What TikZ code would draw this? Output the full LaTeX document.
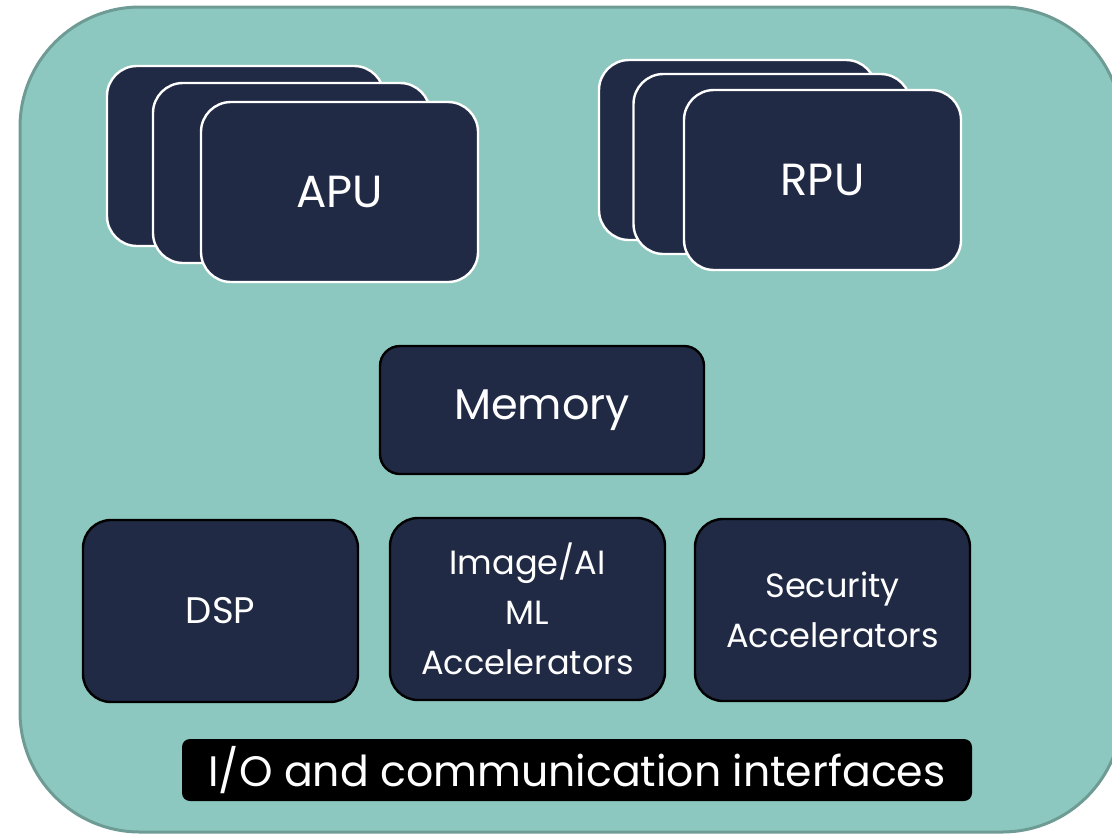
\documentclass[tikz,border=0pt]{standalone}
\usepackage{fontspec}
\setmainfont{Poppins}
\usetikzlibrary{positioning}
\definecolor{chipteal}{HTML}{8CC8BF}
\definecolor{chipedge}{HTML}{6E9C95}
\definecolor{coreblue}{HTML}{212A45}
\tikzstyle{core}=[draw=white, line width=1.2pt, fill=coreblue, rounded corners=15pt,
	minimum width=138.5pt, minimum height=90pt, text=white, font=\fontsize{22.5}{26}\selectfont]
\tikzstyle{block}=[draw=black, line width=1.2pt, fill=coreblue, rounded corners=14pt,
	minimum width=137.5pt, minimum height=91pt, text=white, align=center, font=\fontsize{16.8}{25}\selectfont]

\begin{document}
\begin{tikzpicture}[x=0.5pt, y=-0.5pt]
	\useasboundingbox (0,0) rectangle (1112,835);
	\draw[chipedge, line width=1.5pt, fill=chipteal, rounded corners=60pt] (20,7) rectangle (1122,832);

	\node[core] (apu3) at (245.5,156) {};
	\node[core] (apu2) at (291.5,173) {};
	\node[core] (apu) at (339.5,192) {APU};

	\node[core] (rpu3) at (737.5,150) {};
	\node[core] (rpu2) at (772,164) {};
	\node[core] (rpu) at (822.5,180) {RPU};

	\node[block, minimum width=162pt, minimum height=64pt, rounded corners=10pt,
		font=\fontsize{21.5}{26}\selectfont] (mem) at (542,410) {Memory};

	\node[block, font=\fontsize{18.5}{25}\selectfont] (dsp) at (220.5,611) {DSP};
	\node[block] (ml) at (527.5,609) {Image/AI\\ML\\Accelerators};
	\node[block] (sec) at (832.5,610) {Security\\Accelerators};

	\node[fill=black, rounded corners=4pt, minimum width=395pt, minimum height=31pt, inner sep=0pt,
		text=white, font=\fontsize{21.3}{26}\selectfont] (io) at (577,770) {I/O and communication interfaces};
\end{tikzpicture}
\end{document}
